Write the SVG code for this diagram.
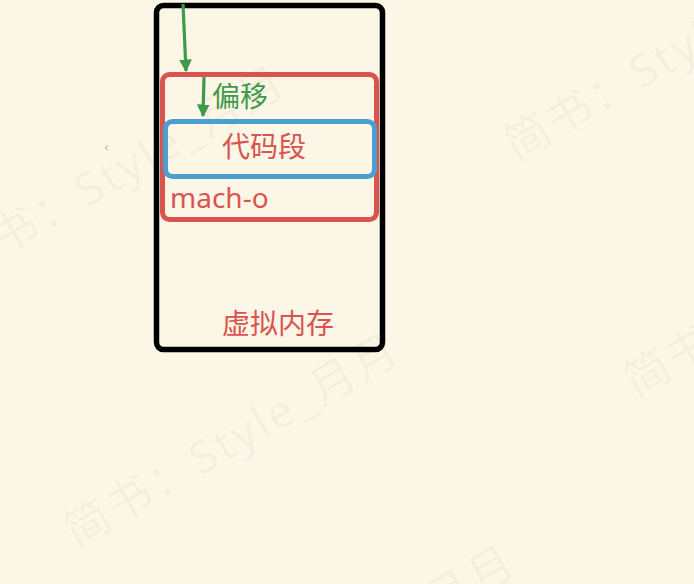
<svg xmlns="http://www.w3.org/2000/svg" width="694" height="584" viewBox="0 0 694 584">
<style>
.wm{font-family:"Noto Sans","Noto Sans CJK SC",sans-serif;font-size:45px;fill:#000;fill-opacity:0.04;letter-spacing:3px}
.lbl{font-family:"Noto Sans","Noto Sans CJK SC",sans-serif;font-size:28px}
.red{fill:#d9534f}
.grn{fill:#3f9a4a}
.arr{stroke:#3f9a4a;stroke-width:3.2;fill:none}
</style>
<defs>
<marker id="ah" viewBox="0 0 10 10" refX="9" refY="5" markerWidth="4" markerHeight="4" orient="auto" markerUnits="strokeWidth">
<path d="M0,0 L10,5 L0,10 z" fill="#3f9a4a"/>
</marker>
</defs>
<rect width="694" height="584" fill="#fcf6e6"/>
<g id="watermarks">
<text class="wm" transform="translate(76,548) rotate(-30)">简书：Style_月月</text>
<text class="wm" transform="translate(516,162) rotate(-30)">简书：Style_月月</text>
<text class="wm" transform="translate(-38,280) rotate(-30)">简书：Style_月月</text>
<text class="wm" transform="translate(636,398) rotate(-30)">简书：Style_月月</text>
<text class="wm" transform="translate(192,760) rotate(-30)">简书：Style_月月</text>
</g>
<g id="virtual-memory">
<rect x="156.5" y="5.5" width="226" height="344" rx="7" fill="none" stroke="#000" stroke-width="5.5"/>
<text class="lbl red" x="222" y="334">虚拟内存</text>
</g>
<g id="mach-o">
<rect x="162.5" y="74.5" width="214" height="145" rx="7" fill="none" stroke="#d9534f" stroke-width="5"/>
<text class="lbl red" x="170" y="208">mach-o</text>
</g>
<g id="code-segment">
<rect x="165.5" y="121.5" width="209" height="55" rx="7" fill="none" stroke="#4a9fd0" stroke-width="5"/>
<text class="lbl red" x="222" y="157">代码段</text>
</g>
<g id="offset-label">
<text class="lbl grn" x="212" y="107">偏移</text>
</g>
<g id="connectors">
<line class="arr" x1="183" y1="4" x2="186" y2="71" marker-end="url(#ah)"/>
<line class="arr" x1="204" y1="77" x2="203" y2="116" marker-end="url(#ah)"/>
<polyline points="108,145 105,148 108,150" fill="none" stroke="#3f9a4a" stroke-width="1" stroke-opacity="0.6"/>
</g>
</svg>
